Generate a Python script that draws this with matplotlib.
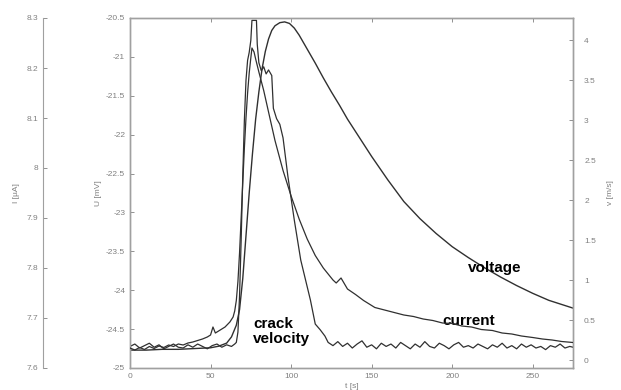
import matplotlib.pyplot as plt

# crack velocity (right axis)
t_vel = [0, 3, 6, 9, 12, 15, 18, 21, 24, 27, 30, 33, 36, 39, 42, 45, 48, 51, 54, 57, 60, 63, 65,
         66, 67, 68, 69, 70, 71, 72, 73, 74, 75, 75.7, 78.5, 79, 80, 81.5, 83, 84.5, 86, 88, 89,
         91, 93, 95, 98, 102, 106, 109, 112, 115, 118, 121, 123,
         126, 129, 132, 135, 138, 141, 144, 147, 150, 153, 156, 159, 162, 165, 168, 171, 174, 177,
         180, 183, 186, 189, 192, 195, 198, 201, 204, 207, 210, 213, 216, 219, 222, 225, 228, 231,
         234, 237, 240, 243, 246, 249, 252, 255, 258, 261, 264, 267, 270, 273, 275]
vel = [0.17, 0.20, 0.15, 0.18, 0.21, 0.16, 0.19, 0.14, 0.17, 0.20, 0.16, 0.15, 0.19, 0.16, 0.20,
       0.17, 0.14, 0.18, 0.20, 0.16, 0.19, 0.17, 0.20,
       0.22, 0.35, 0.80, 1.50, 2.30, 3.00, 3.50, 3.75, 3.85, 4.00, 4.25, 4.25, 3.95, 3.72, 3.62,
       3.67, 3.58, 3.63, 3.56, 3.15, 3.02, 2.95, 2.78, 2.30, 1.75, 1.25, 1.00, 0.75, 0.45, 0.38,
       0.30, 0.22,
       0.18, 0.23, 0.17, 0.21, 0.15, 0.20, 0.24, 0.16, 0.19, 0.14, 0.21, 0.17, 0.20, 0.15, 0.22,
       0.18, 0.14, 0.20, 0.16, 0.23, 0.17, 0.15, 0.21, 0.18, 0.14, 0.19, 0.22, 0.16, 0.18, 0.15,
       0.20, 0.17, 0.14, 0.19, 0.16, 0.21, 0.15, 0.18, 0.14, 0.20, 0.16, 0.19, 0.15, 0.17, 0.13,
       0.18, 0.16, 0.20, 0.15, 0.17, 0.16]

# voltage (left axis)
t_volt = [0, 10, 20, 30, 40, 50, 55, 60, 63, 66, 68, 70, 72, 74, 76, 78, 80, 82, 84, 86, 88, 90,
          93, 96, 99, 102, 105, 110, 115, 120, 125, 130, 135, 140, 150, 160, 170, 180, 190, 200,
          210, 220, 230, 240, 250, 260, 275]
volt = [-24.77, -24.77, -24.76, -24.76, -24.75, -24.74, -24.72, -24.68, -24.60, -24.45, -24.25,
        -23.85, -23.30, -22.75, -22.25, -21.80, -21.45, -21.15, -20.93, -20.77, -20.66, -20.60,
        -20.56, -20.55, -20.57, -20.63, -20.72, -20.90, -21.08, -21.27, -21.45, -21.62, -21.80,
        -21.96, -22.28, -22.58, -22.86, -23.08, -23.27, -23.44, -23.58, -23.71, -23.83, -23.94,
        -24.04, -24.13, -24.23]

# current (far left axis)
t_cur = [0, 3, 6, 9, 12, 15, 18, 21, 24, 27, 30, 33, 36, 39, 42, 45, 48, 50, 51.5, 53, 56, 59, 62,
         64, 65, 66, 67, 68, 69, 70, 71, 72, 73, 74, 75, 75.7, 77, 78, 80, 83, 86, 90, 95, 100, 105,
         110, 115, 120, 123, 126, 128, 131, 135, 140, 145, 152, 158, 164, 170, 176, 182, 188, 194,
         200, 206, 212, 218, 225, 231, 237, 243, 250, 256, 262, 268, 275]
cur = [7.640, 7.636, 7.641, 7.637, 7.643, 7.639, 7.644, 7.641, 7.646, 7.643, 7.648, 7.646, 7.650,
       7.652, 7.655, 7.658, 7.662, 7.666, 7.682, 7.670, 7.676, 7.682, 7.692, 7.702, 7.714, 7.735,
       7.773, 7.830, 7.900, 7.970, 8.040, 8.100, 8.150, 8.190, 8.220, 8.240, 8.232, 8.218, 8.192,
       8.155, 8.112, 8.055, 7.995, 7.944, 7.898, 7.858, 7.825, 7.800, 7.788, 7.776, 7.770, 7.780,
       7.758, 7.747, 7.735, 7.721, 7.716, 7.711, 7.706, 7.703, 7.698, 7.695, 7.690, 7.689, 7.684,
       7.682, 7.677, 7.675, 7.670, 7.668, 7.664, 7.661, 7.658, 7.656, 7.653, 7.651]

gray = '#808080'
line_c = '#303030'
plt.rcParams['font.family'] = 'Liberation Sans'

fig = plt.figure(figsize=(6.21, 3.9), dpi=100)
ax = fig.add_axes([130 / 621, 22 / 390, 443 / 621, 350 / 390])
ax_v = ax.twinx()
ax_i = ax.twinx()

ax.plot(t_volt, volt, color=line_c, lw=1.0)
ax_v.plot(t_vel, vel, color=line_c, lw=0.9)
ax_i.plot(t_cur, cur, color=line_c, lw=0.9)

ax.set_xlim(0, 275)
ax.set_ylim(-25, -20.5)
ax_v.set_ylim(-0.1, 4.28)
ax_i.set_ylim(7.6, 8.3)

ax.set_xticks([0, 50, 100, 150, 200, 250])
ax.set_yticks([-25, -24.5, -24, -23.5, -23, -22.5, -22, -21.5, -21, -20.5])
ax.set_yticklabels(['-25', '-24.5', '-24', '-23.5', '-23', '-22.5', '-22', '-21.5', '-21', '-20.5'])
ax_v.set_yticks([0, 0.5, 1, 1.5, 2, 2.5, 3, 3.5, 4])
ax_v.set_yticklabels(['0', '0.5', '1', '1.5', '2', '2.5', '3', '3.5', '4'])
ax_i.set_yticks([7.6, 7.7, 7.8, 7.9, 8.0, 8.1, 8.2, 8.3])
ax_i.set_yticklabels(['7.6', '7.7', '7.8', '7.9', '8', '8.1', '8.2', '8.3'])

ax.tick_params(direction='in', top=True, labelsize=6, colors=gray, length=3, width=0.6)
ax_v.tick_params(direction='in', labelsize=6, colors=gray, length=3, width=0.6, pad=8)

# current axis moved out to the far left (87 px = 62.6 pt)
ax_i.yaxis.set_ticks_position('left')
ax_i.yaxis.set_label_position('left')
ax_i.spines['left'].set_position(('outward', 62.6))
ax_i.spines['left'].set_visible(True)
for s in ['right', 'top', 'bottom']:
    ax_i.spines[s].set_visible(False)
ax_i.tick_params(direction='in', labelsize=6, colors=gray, length=3, width=0.6)

for a in [ax, ax_v]:
    for s in a.spines.values():
        s.set_color('#a0a0a0')
        s.set_linewidth(1.0)
ax_i.spines['left'].set_color('#a0a0a0')

ax.set_xlabel('t [s]', fontsize=6, color=gray, labelpad=2)
ax.set_ylabel('U [mV]', fontsize=6, color=gray, labelpad=3)
ax_i.set_ylabel('I [µA]', fontsize=6, color=gray, labelpad=5)
ax_v.set_ylabel('v [m/s]', fontsize=6, color=gray, labelpad=8)

ax.text(76.5, -24.53, 'crack\nvelocity', fontsize=11, fontweight='bold', ha='left', va='center',
        linespacing=1.15)
ax.text(194, -24.40, 'current', fontsize=11, fontweight='bold', ha='left', va='center')
ax.text(210, -23.72, 'voltage', fontsize=11, fontweight='bold', ha='left', va='center')

fig.savefig('out.png', dpi=100)
